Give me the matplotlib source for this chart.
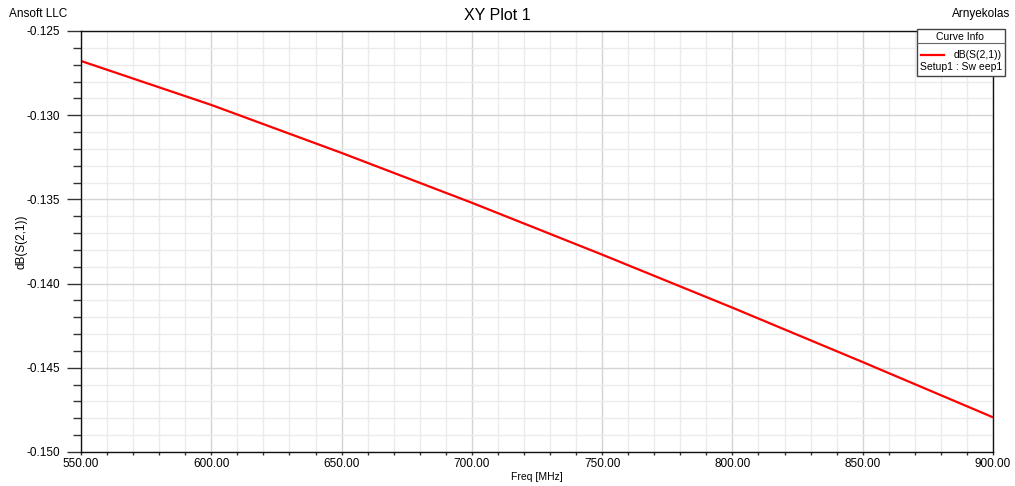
import matplotlib
matplotlib.use("Agg")
import matplotlib.pyplot as plt
from matplotlib.ticker import MultipleLocator, FormatStrFormatter
from matplotlib.patches import Rectangle
from matplotlib.lines import Line2D

plt.rcParams['font.family'] = ['Liberation Sans', 'DejaVu Sans']

# Frequency sweep and insertion loss
freq_mhz = [550, 600, 650, 700, 750, 800, 850, 900]
s21_db = [-0.12678, -0.12939, -0.13224, -0.13520, -0.13828, -0.14143, -0.14466, -0.14794]

fig = plt.figure(figsize=(10.15, 4.86), dpi=100)
ax = fig.add_axes([81 / 1015, 34 / 486, (993 - 81) / 1015, (452 - 31) / 486])

ax.plot(freq_mhz, s21_db, color='#ff0000', lw=1.6, solid_capstyle='butt')

ax.set_xlim(550, 900)
ax.set_ylim(-0.150, -0.125)
ax.xaxis.set_major_locator(MultipleLocator(50))
ax.xaxis.set_minor_locator(MultipleLocator(10))
ax.yaxis.set_major_locator(MultipleLocator(0.005))
ax.yaxis.set_minor_locator(MultipleLocator(0.001))
ax.xaxis.set_major_formatter(FormatStrFormatter('%.2f'))
ax.yaxis.set_major_formatter(FormatStrFormatter('%.3f'))

ax.grid(which='minor', color='#ebebeb', lw=1.0)
ax.grid(which='major', color='#d4d4d4', lw=1.0)
ax.set_axisbelow(True)

ax.tick_params(axis='y', which='major', length=10, width=1, labelsize=8.5, pad=5, color='#333333')
ax.tick_params(axis='y', which='minor', length=6, width=1, color='#333333')
ax.tick_params(axis='x', which='both', length=2.5, width=1, labelsize=8.5, pad=2, color='#333333')
for s in ax.spines.values():
    s.set_color('#111111')
    s.set_linewidth(1.0)

ax.set_xlabel('Freq [MHz]', fontsize=7.5, labelpad=1)
ax.set_ylabel('dB(S(2,1))', fontsize=8.5)
ax.yaxis.set_label_coords((28 - 81) / 912, 0.5)

fig.text(497 / 1015, 1 - 16 / 486, 'XY Plot 1', ha='center', va='center', fontsize=11.5)
fig.text(9 / 1015, 1 - 14 / 486, 'Ansoft LLC', ha='left', va='center', fontsize=8.5)
fig.text(1010 / 1015, 1 - 14 / 486, 'Arnyekolas', ha='right', va='center', fontsize=8.5)

# Curve info box
def fx(px):
    return px / 1015

def fy(py):
    return 1 - py / 486

box = Rectangle((fx(917), fy(76)), fx(1005) - fx(917), fy(29) - fy(76),
                transform=fig.transFigure, facecolor='white', edgecolor='#444444',
                lw=1.0, zorder=5)
fig.add_artist(box)
fig.add_artist(Line2D([fx(917), fx(1005)], [fy(43), fy(43)], transform=fig.transFigure,
                      color='#666666', lw=0.8, zorder=6))
fig.text(fx(960), fy(36.5), 'Curve Info', ha='center', va='center', fontsize=7.5, zorder=7)
fig.add_artist(Line2D([fx(921), fx(944)], [fy(55), fy(55)], transform=fig.transFigure,
                      color='#ff0000', lw=1.6, zorder=6))
fig.text(fx(1002), fy(55), 'dB(S(2,1))', ha='right', va='center', fontsize=7.5, zorder=7)
fig.text(fx(1002), fy(66.5), 'Setup1 : Sw eep1', ha='right', va='center', fontsize=7.5, zorder=7)

fig.savefig('out.png', dpi=100)
